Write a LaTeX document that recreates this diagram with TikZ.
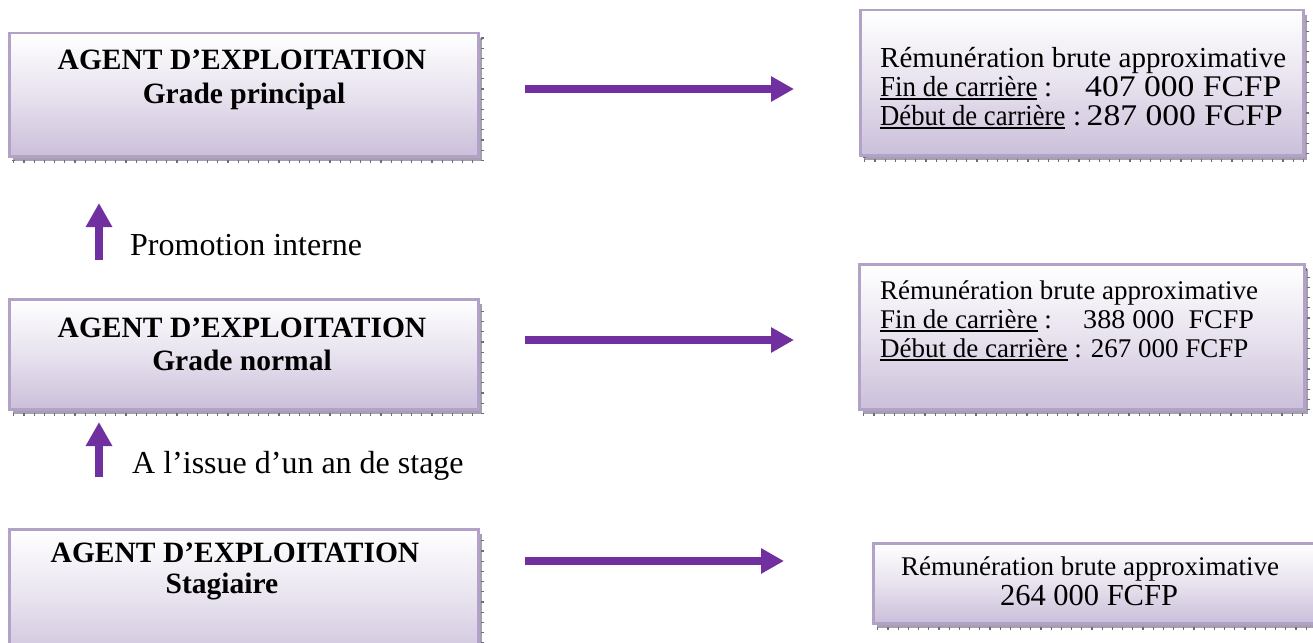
\documentclass[tikz,border=0pt]{standalone}
\usepackage{fontspec}
\usepackage{graphicx}
\setmainfont{Liberation Serif}
\usetikzlibrary{arrows.meta,shadows}
\definecolor{purp}{HTML}{7030A0}
\definecolor{lav}{HTML}{CBBFDA}
\definecolor{boxline}{HTML}{B3A2C7}
\definecolor{shad}{HTML}{A59FB0}
\definecolor{shadtick}{HTML}{6F6A7C}
\newcommand\ftitle{\fontsize{29.5}{33}\selectfont\bfseries}
\newcommand\frone{\fontsize{29}{29}\selectfont}
\newcommand\fronenum{\fontsize{30}{29}\selectfont}
\newcommand\frtwo{\fontsize{27}{29}\selectfont}
\newcommand\frbig{\fontsize{30.5}{31}\selectfont}
\newcommand\flab{\fontsize{32}{34}\selectfont}
\newlength\ulwidth
\newcommand\myul[1]{\settowidth{\ulwidth}{#1}\rlap{\rule[-3.5pt]{\ulwidth}{1.5pt}}#1}
\begin{document}
\begin{tikzpicture}[x=1pt,y=-1pt,
  box/.style={draw=boxline, line width=2.5pt, top color=white, bottom color=lav,
    middle color=lav!45!white, anchor=north west, inner sep=0pt,
    general shadow={shadow xshift=4pt, shadow yshift=-5pt, fill=shad,
      draw=shadtick, line width=3pt, dash pattern=on 1.2pt off 9pt}},
  harrow/.style={draw=purp, line width=8pt, -{Triangle[length=23pt,width=24pt]}},
  varrow/.style={draw=purp, line width=7.5pt, -{Triangle[length=24pt,width=25pt]}},
  ttl/.style={anchor=base, font=\ftitle, inner sep=0pt},
  rtxt/.style={anchor=base west, inner sep=0pt},
  rtxe/.style={anchor=base east, inner sep=0pt},
  lab/.style={anchor=base west, font=\flab, inner sep=0pt}]
\useasboundingbox (0,0) rectangle (1313,642);
\clip (0,0) rectangle (1313,642);
% boxes
\node[box, minimum width=469pt, minimum height=123pt] (L1) at (8,32) {};
\node[box, minimum width=469pt, minimum height=110pt] (L2) at (8,298) {};
\node[box, minimum width=469pt, minimum height=140pt] (L3) at (8,528) {};
\node[box, minimum width=443pt, minimum height=145pt] (R1) at (859,9) {};
\node[box, minimum width=445pt, minimum height=145pt] (R2) at (858,263) {};
\node[box, minimum width=450pt, minimum height=80pt] (R3) at (872,542) {};
% left titles
\node[ttl] (L1a) at (242,70) {AGENT D’EXPLOITATION};
\node[ttl] (L1b) at (244,103) {Grade principal};
\node[ttl] (L2a) at (242,337) {AGENT D’EXPLOITATION};
\node[ttl] (L2b) at (242,370) {Grade normal};
\node[ttl] (L3a) at (235,562) {AGENT D’EXPLOITATION};
\node[ttl] (L3b) at (222,593) {Stagiaire};
% right texts, box 1
\node[rtxt, font=\frone] (R1a) at (880,67) {Rémunération brute approximative};
\node[rtxt, font=\frone] (R1b) at (880,96) {\scalebox{0.93}[1]{\myul{Fin de carrière}}};
\node[rtxt, font=\frone] (R1bc) at (1044,96) {:};
\node[rtxt, font=\fronenum] (R1c) at (1085,96) {\scalebox{1.12}[1]{407 000 FCFP}};
\node[rtxt, font=\frone] (R1d) at (880,125) {\scalebox{0.92}[1]{\myul{Début de carrière}}};
\node[rtxt, font=\frone] (R1dc) at (1073,125) {:};
\node[rtxe, font=\fronenum] (R1e) at (1283,125) {\scalebox{1.12}[1]{287 000 FCFP}};
% right texts, box 2
\node[rtxt, font=\frtwo] (R2a) at (880,299) {Rémunération brute approximative};
\node[rtxt, font=\frtwo] (R2b) at (880,328) {\myul{Fin de carrière} :};
\node[rtxt, font=\frtwo] (R2c) at (1083,328) {\scalebox{1.04}[1]{388 000\hspace{0.5em}FCFP}};
\node[rtxt, font=\frtwo] (R2d) at (880,357) {\myul{Début de carrière} : 267 000 FCFP};
% right texts, box 3
\node[anchor=base, inner sep=0pt, font=\frtwo] (R3a) at (1090,575) {Rémunération brute approximative};
\node[anchor=base, inner sep=0pt, font=\frbig] (R3b) at (1089,605) {264 000 FCFP};
% labels
\node[lab] (P1) at (130,255) {Promotion interne};
\node[lab] (P2) at (132,473) {A l’issue d’un an de stage};
% arrow end points
\coordinate (h1s) at (525,89);  \coordinate (h1e) at (794,89);
\coordinate (h2s) at (525,340); \coordinate (h2e) at (794,340);
\coordinate (h3s) at (525,561); \coordinate (h3e) at (784,561);
\coordinate (v1s) at (99,260);  \coordinate (v1e) at (99,203);
\coordinate (v2s) at (99,477);  \coordinate (v2e) at (99,422);
\draw[harrow] (h1s) -- (h1e);
\draw[harrow] (h2s) -- (h2e);
\draw[harrow] (h3s) -- (h3e);
\draw[varrow] (v1s) -- (v1e);
\draw[varrow] (v2s) -- (v2e);
\end{tikzpicture}
\end{document}
